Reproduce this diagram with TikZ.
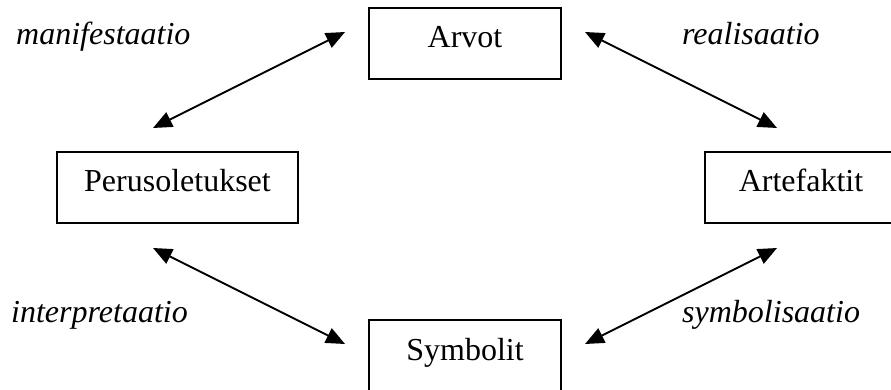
\documentclass[tikz,border=0pt]{standalone}
\usepackage{fontspec}
\setmainfont{Liberation Serif}
\usetikzlibrary{arrows.meta}
\begin{document}
\begin{tikzpicture}[x=1pt,y=-1pt,
  box/.style={draw, line width=2pt, rectangle, minimum height=71pt, inner sep=0pt,
    font=\fontsize{32}{38}\selectfont, text height=16pt, text depth=7pt},
  lbl/.style={anchor=base west, inner sep=0pt, font=\fontsize{32}{38}\selectfont\itshape},
  link/.style={line width=2pt, {Triangle[length=19pt,width=16pt]}-{Triangle[length=19pt,width=16pt]}}]
\useasboundingbox (0,0) rectangle (891,390);
\clip (0,0) rectangle (891,390);
\node[box, minimum width=192pt] (arvot) at (465,43.5) {Arvot};
\node[box, minimum width=241pt] (perus) at (177.5,187.5) {Perusoletukset};
\node[box, minimum width=192pt] (arte) at (801,187.5) {Artefaktit};
\node[box, minimum width=192pt] (symb) at (465,355.5) {Symbolit};
\coordinate (m1) at (153,128);
\coordinate (m2) at (345,32);
\coordinate (r1) at (585,32);
\coordinate (r2) at (777,128);
\coordinate (i1) at (153,248);
\coordinate (i2) at (345,344);
\coordinate (s1) at (777,248);
\coordinate (s2) at (585,344);
\draw[link] (m1) -- (m2);
\draw[link] (r1) -- (r2);
\draw[link] (i1) -- (i2);
\draw[link] (s1) -- (s2);
\node[lbl] (lm) at (16,45) {manifestaatio};
\node[lbl] (lr) at (682,45) {realisaatio};
\node[lbl] (li) at (11,322) {interpretaatio};
\node[lbl] (ls) at (682,322) {symbolisaatio};
\end{tikzpicture}
\end{document}
